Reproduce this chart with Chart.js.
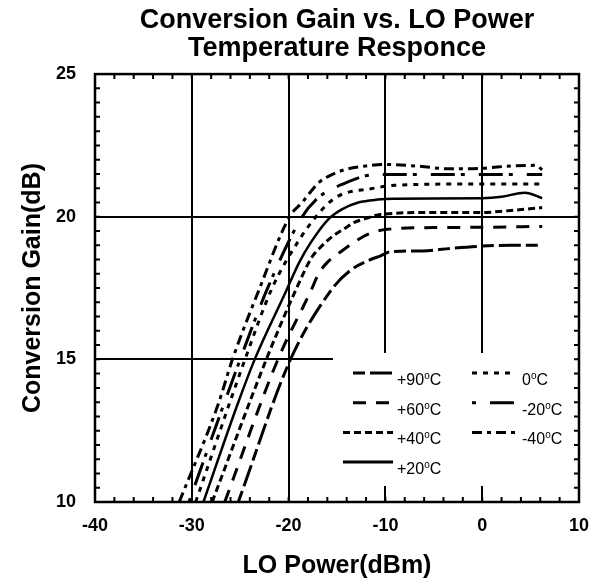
<!DOCTYPE html>
<html>
<head>
<meta charset="utf-8">
<script src="https://cdn.jsdelivr.net/npm/chart.js@4.4.0/dist/chart.umd.min.js"></script>
<style>
  html, body { margin: 0; padding: 0; background: #fff; }
</style>
</head>
<body>
<canvas id="gainChart" width="602" height="584"></canvas>
<script>
const FONT = "'Liberation Sans', Arial, sans-serif";

const xTicks = [-40, -30, -20, -10, 0, 10];
const yTicks = [10, 15, 20, 25];

// LO power (dBm) / conversion gain (dB) per temperature
const lo90 = [-25.2, -19.8, -15.5, -13.7, -11.8, -10.5, -9.4, -6.1, -3.0, 0, 3.0, 6.2];
const gain90 = [10.0, 15.0, 17.47, 18.1, 18.46, 18.63, 18.78, 18.8, 18.9, 18.97, 19.0, 19.0];

const lo60 = [-26.6, -21.1, -17.7, -16.9, -16.0, -14.5, -13.0, -11.7, -9.8, -5.0, 0, 6.2];
const gain60 = [10.0, 15.0, 17.4, 18.0, 18.4, 18.8, 19.16, 19.4, 19.56, 19.62, 19.63, 19.66];

const lo40 = [-27.9, -22.3, -19.3, -17.6, -16.7, -15.5, -14.2, -13.2, -12.0, -10.5, -5.0, 0, 3.0, 6.2];
const gain40 = [10.0, 15.0, 17.4, 18.58, 18.93, 19.3, 19.59, 19.8, 19.94, 20.08, 20.15, 20.15, 20.22, 20.32];

const lo20 = [-28.8, -25.3, -23.5, -20.3, -18.9, -17.7, -15.9, -14.5, -12.8, -10.8, -9.1, 0, 2.0, 4.4, 6.2];
const gain20 = [10.0, 13.4, 15.0, 17.36, 18.4, 19.1, 19.91, 20.26, 20.5, 20.6, 20.63, 20.65, 20.7, 20.84, 20.65];

const lo0 = [-29.6, -24.5, -21.7, -18.75, -17.05, -16.0, -15.0, -13.7, -11.9, -9.0, 0, 6.2];
const gain0 = [10.0, 15.0, 17.5, 19.27, 20.05, 20.44, 20.7, 20.87, 20.96, 21.1, 21.15, 21.15];

const loM20 = [-30.3, -25.0, -22.2, -18.6, -16.9, -15.9, -14.5, -12.2, -10.0, -5.0, 0, 6.2];
const gainM20 = [10.0, 15.0, 17.47, 20.0, 20.68, 20.9, 21.13, 21.42, 21.48, 21.48, 21.48, 21.48];

const loM40 = [-31.3, -27.3, -25.8, -23.1, -19.9, -18.6, -16.9, -15.5, -14.2, -12.2, -10.1, -6.5, -3.5, 0, 3.0, 5.5, 6.2];
const gainM40 = [10.0, 13.4, 15.0, 17.4, 20.0, 20.5, 21.19, 21.48, 21.65, 21.77, 21.83, 21.77, 21.68, 21.7, 21.78, 21.8, 21.65];

const tempLabels = ['+90', '+60', '+40', '+20', '0', '-20', '-40'];
const loSeries = [lo90, lo60, lo40, lo20, lo0, loM20, loM40];
const gainSeries = [gain90, gain60, gain40, gain20, gain0, gainM20, gainM40];

// line styles, same order as tempLabels
const dashes = [
  [12, 5, 22, 5],
  [13, 10],
  [7, 4],
  [],
  [5, 6],
  [4, 14, 24, 6],
  [10, 5, 4, 5]
];
// legend slots: sample x-range, text start, row index
const legendSlots = [
  { x0: 353, x1: 393, tx: 397, row: 0 },
  { x0: 353, x1: 393, tx: 397, row: 1 },
  { x0: 343, x1: 393, tx: 397, row: 2 },
  { x0: 343, x1: 393, tx: 397, row: 3 },
  { x0: 472, x1: 515, tx: 522, row: 0 },
  { x0: 472, x1: 515, tx: 522, row: 1 },
  { x0: 472, x1: 515, tx: 522, row: 2 }
];

function drawTempLabel(ctx, text, x, y) {
  ctx.font = '16px ' + FONT;
  ctx.fillText(text, x, y);
  let w = ctx.measureText(text).width;
  ctx.font = '10px ' + FONT;
  ctx.fillText('o', x + w, y - 6);
  w += ctx.measureText('o').width;
  ctx.font = '16px ' + FONT;
  ctx.fillText('C', x + w, y);
}

const frameAndLegend = {
  id: 'frameAndLegend',
  afterDatasetsDraw(chart) {
    const { ctx, chartArea: a, scales: { x, y } } = chart;
    ctx.save();

    // legend box (hides the grid behind it)
    ctx.fillStyle = '#fff';
    ctx.fillRect(333, 353, 244, 133);
    ctx.strokeStyle = '#000';
    ctx.fillStyle = '#000';
    ctx.textBaseline = 'alphabetic';
    legendSlots.forEach((s, i) => {
      const ly = 373 + s.row * 29.7;
      ctx.lineWidth = 3;
      ctx.lineCap = 'butt';
      ctx.setLineDash(dashes[i]);
      ctx.beginPath();
      ctx.moveTo(s.x0, ly);
      ctx.lineTo(s.x1, ly);
      ctx.stroke();
      ctx.setLineDash([]);
      drawTempLabel(ctx, tempLabels[i], s.tx, ly + 12);
    });

    // frame
    ctx.lineWidth = 2.5;
    ctx.strokeRect(a.left, a.top, a.right - a.left, a.bottom - a.top);

    // inward minor ticks
    ctx.lineWidth = 2;
    ctx.beginPath();
    for (let i = 1; i < 25; i++) {
      const px = x.getPixelForValue(-40 + i * 2);
      ctx.moveTo(px, a.top); ctx.lineTo(px, a.top + 5);
      ctx.moveTo(px, a.bottom); ctx.lineTo(px, a.bottom - 5);
    }
    for (let i = 1; i < 30; i++) {
      const py = y.getPixelForValue(10 + i * 0.5);
      ctx.moveTo(a.left, py); ctx.lineTo(a.left + 5, py);
      ctx.moveTo(a.right, py); ctx.lineTo(a.right - 5, py);
    }
    ctx.stroke();
    ctx.restore();
  }
};

const datasets = tempLabels.map((t, i) => ({
  label: t + '°C',
  data: loSeries[i].map((v, k) => ({ x: v, y: gainSeries[i][k] })),
  borderColor: '#000',
  borderWidth: i === 3 ? 2.5 : 3,
  borderDash: dashes[i],
  borderCapStyle: 'butt',
  pointRadius: 0,
  fill: false,
  cubicInterpolationMode: 'monotone'
}));

const gridStyle = { color: '#000', lineWidth: 2, drawTicks: false, tickLength: 0 };

new Chart(document.getElementById('gainChart').getContext('2d'), {
  type: 'line',
  data: { datasets },
  options: {
    responsive: false,
    animation: false,
    layout: { padding: { left: 0, right: 11, top: 0, bottom: 0 } },
    plugins: {
      legend: { display: false },
      tooltip: { enabled: false },
      title: {
        display: true,
        fullSize: false,
        text: ['Conversion Gain vs. LO Power', 'Temperature Responce'],
        color: '#000',
        font: { family: FONT, size: 27, weight: 'bold', lineHeight: 1.02 },
        padding: { top: 7, bottom: 12 }
      }
    },
    scales: {
      x: {
        type: 'linear',
        min: -40,
        max: 10,
        afterBuildTicks: s => { s.ticks = xTicks.map(v => ({ value: v })); },
        afterFit: s => { s.height = 82; },
        grid: gridStyle,
        border: { display: false },
        ticks: { color: '#000', padding: 13, maxRotation: 0, font: { family: FONT, size: 18, weight: 'bold' } },
        title: {
          display: true,
          text: 'LO Power(dBm)',
          color: '#000',
          font: { family: FONT, size: 25, weight: 'bold', lineHeight: 1.2 },
          padding: { top: 0, bottom: 3 }
        }
      },
      y: {
        type: 'linear',
        min: 10,
        max: 25,
        afterBuildTicks: s => { s.ticks = yTicks.map(v => ({ value: v })); },
        afterFit: s => { s.width = 95; },
        grid: gridStyle,
        border: { display: false },
        ticks: { color: '#000', padding: 19, font: { family: FONT, size: 18, weight: 'bold' } },
        title: {
          display: true,
          text: 'Conversion Gain(dB)',
          color: '#000',
          font: { family: FONT, size: 25, weight: 'bold', lineHeight: 1.2 },
          padding: { top: 18, bottom: 0 }
        }
      }
    }
  },
  plugins: [frameAndLegend]
});
</script>
</body>
</html>
